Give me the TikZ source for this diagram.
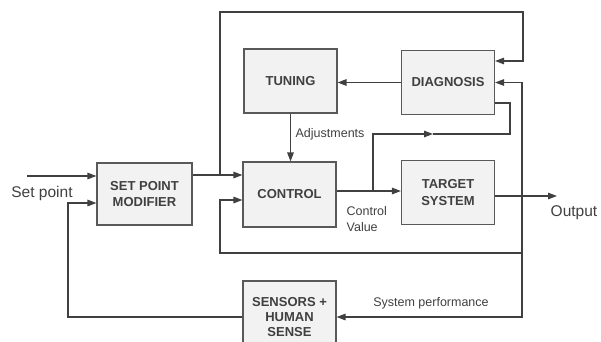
\documentclass[tikz,border=0pt]{standalone}
\usepackage{fontspec}
\setmainfont{Liberation Sans}
\usetikzlibrary{arrows.meta}

\begin{document}
\begin{tikzpicture}[x=1pt, y=-1pt, line width=1.3pt, color=black!75,
    blk/.style={draw=black!65, line width=1.1pt, fill=black!5, minimum width=93pt, minimum height=64pt,
        align=center, inner sep=0pt, font=\fontsize{13}{16.5}\selectfont\bfseries},
    arr/.style={-{Triangle[length=9pt,width=6.5pt]}},
    lbl/.style={inner sep=0pt, font=\fontsize{12.5}{16.5}\selectfont},
    big/.style={inner sep=0pt, font=\fontsize{15.5}{18}\selectfont}]
            \useasboundingbox (0,0) rectangle (601,341);
            \clip (0,0) rectangle (601,341);

            % 方框
            \node[blk] (tuning) at (290.5,81) {TUNING};
            \node[blk] (diag) at (448,82.5) {DIAGNOSIS};
            \node[blk, minimum width=95pt, minimum height=62pt] (spm) at (144.5,194) {SET POINT\\MODIFIER};
            \node[blk, minimum height=65pt] (ctrl) at (289.5,194.5) {CONTROL};
            \node[blk] (target) at (448,192.5) {TARGET\\SYSTEM};
            \node[blk, minimum height=72pt, font=\fontsize{13}{15}\selectfont\bfseries] (sensors) at (289.5,317) {SENSORS +\\HUMAN\\SENSE};

            % 折点
            \coordinate (sp) at (27,176);
            \coordinate (fb) at (68,203);
            \coordinate (j1) at (220,175);
            \coordinate (tl) at (220,12);
            \coordinate (tr) at (523,61);
            \coordinate (cv) at (373,191);
            \coordinate (mid) at (433,134);
            \coordinate (cb) at (510,134);
            \coordinate (o1) at (522,196);
            \coordinate (fr) at (522,253);
            \coordinate (fc) at (220,200);
            \coordinate (out) at (557,196);

            % 输入与设定值
            \draw[arr] (sp) -- (sp -| spm.west);
            \draw[arr] (sensors.west) -| (fb) -- (fb -| spm.west);
            \draw[arr] (j1 -| spm.east) -- (j1 -| ctrl.west);
            \draw[arr] (j1) -- (tl) -| (tr) -- (tr -| diag.east);

            % 调整回路
            \draw[arr] (diag.west) -- (diag.west -| tuning.east);
            \draw[arr] (tuning.south) -- (tuning.south |- ctrl.north);
            \draw[arr] (cv -| ctrl.east) -- (cv -| target.west);
            \draw[arr] (cv) |- (mid);
            \draw (mid) -- (cb) |- (diag.east |- 0,103);

            % 输出与反馈
            \draw[arr] (o1 -| target.east) -- (out);
            \draw[arr] (o1) |- (diag.east);
            \draw[arr] (o1) |- (sensors.east);
            \draw[arr] (fr) -| (fc) -- (fc -| ctrl.west);

            % 标注
            \node[lbl, anchor=west] (adj) at (295,134) {Adjustments};
            \node[lbl, anchor=west, align=left] (cvl) at (346,219) {Control\\Value};
            \node[lbl] (perf) at (431,303) {System performance};
            \node[big] (spl) at (42,193) {Set point};
            \node[big] (outl) at (574,213) {Output};
\end{tikzpicture}
\end{document}
